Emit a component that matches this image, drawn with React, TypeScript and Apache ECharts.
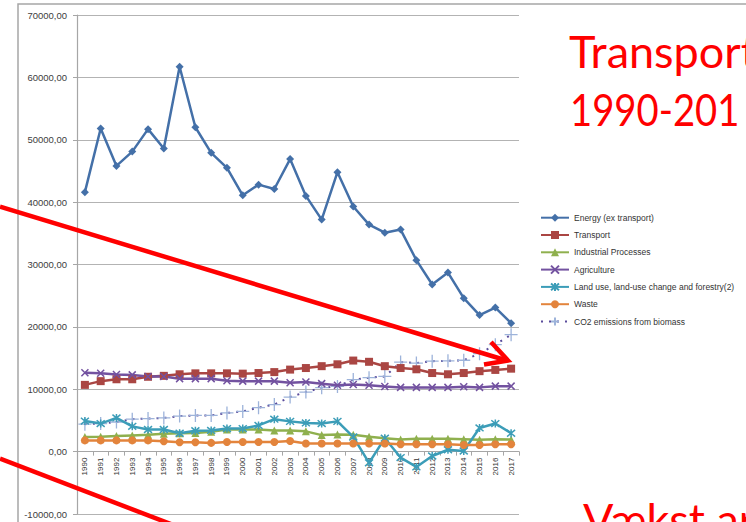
import React, { useEffect, useRef } from "react";
import * as echarts from "echarts";

const years = [
  "1990", "1991", "1992", "1993", "1994", "1995", "1996", "1997", "1998", "1999",
  "2000", "2001", "2002", "2003", "2004", "2005", "2006", "2007", "2008", "2009",
  "2010", "2011", "2012", "2013", "2014", "2015", "2016", "2017",
];

const energy = [
  41600, 51800, 45800, 48100, 51700, 48600, 61700, 52000, 47900, 45500,
  41100, 42800, 42100, 46900, 41000, 37200, 44800, 39300, 36400, 35100,
  35600, 30700, 26800, 28700, 24600, 21900, 23100, 20600,
];
const transport = [
  10700, 11300, 11600, 11600, 12000, 12150, 12400, 12550, 12550, 12550,
  12500, 12600, 12750, 13150, 13400, 13700, 14000, 14600, 14400, 13700,
  13400, 13200, 12600, 12400, 12600, 12900, 13100, 13300,
];
const industrial = [
  2350, 2400, 2500, 2600, 2700, 2850, 2950, 3000, 3200, 3550,
  3550, 3550, 3400, 3400, 3250, 2650, 2750, 2700, 2400, 2150,
  1950, 2050, 2050, 2050, 2000, 1900, 2000, 1950,
];
const agriculture = [
  12650, 12550, 12350, 12300, 12050, 12050, 11700, 11700, 11700, 11350,
  11300, 11300, 11300, 11050, 11150, 10900, 10650, 10750, 10650, 10430,
  10300, 10300, 10300, 10300, 10400, 10300, 10500, 10500,
];
const landUse = [
  4900, 4500, 5400, 4050, 3550, 3550, 2950, 3350, 3400, 3700,
  3700, 4200, 5200, 4850, 4600, 4500, 4850, 2350, -1800, 2150,
  -950, -2450, -700, 300, 100, 3800, 4500, 2950,
];
const waste = [
  1800, 1800, 1800, 1800, 1800, 1650, 1500, 1500, 1400, 1550,
  1550, 1550, 1550, 1700, 1300, 1300, 1300, 1300, 1300, 1300,
  1170, 1170, 1170, 1170, 1070, 1070, 1170, 1170,
];
const biomass = [
  4400, 4500, 4750, 5200, 5300, 5400, 5700, 5800, 5800, 6200,
  6450, 7050, 7550, 8750, 9550, 10250, 10450, 11550, 11850, 12050,
  14350, 14200, 14500, 14550, 14650, 15700, 17150, 18750,
];

const seriesNames = [
  "Energy (ex transport)",
  "Transport",
  "Industrial Processes",
  "Agriculture",
  "Land use, land-use change and forestry(2)",
  "Waste",
  "CO2 emissions from biomass",
];

const headline1 = "Transport";
const headline2 = "1990-201";
const headline3 = "Vækst ar";

const X_PATH = "path://M0,0L10,10M10,0L0,10";
const STAR_PATH = "path://M0,0L10,10M10,0L0,10M5,-1L5,11";
const PLUS_PATH = "path://M0,5L10,5M5,0L5,10";

export default function App() {
  const ref = useRef<HTMLDivElement>(null);

  useEffect(() => {
    if (!ref.current) return;
    const chart = echarts.init(ref.current, null, { renderer: "svg" });
    const font = "Liberation Sans";
    const lineSeries = (
      name: string,
      data: number[],
      color: string,
      symbol: string,
      symbolSize: number,
      extra: any = {}
    ) => ({
      name,
      type: "line",
      data,
      symbol,
      symbolSize,
      showSymbol: true,
      lineStyle: { color, width: 2.5 },
      itemStyle: { color },
      ...extra,
    });

    const gridTop = 15;
    const gridBottom = 8;
    const plotH = 522 - gridTop - gridBottom;
    const yMin = -10000;
    const yMax = 70000;
    const zeroOffset = -(plotH * (0 - yMin)) / (yMax - yMin);

    chart.setOption({
      animation: false,
      backgroundColor: "#ffffff",
      grid: {
        left: 77,
        right: 227,
        top: gridTop,
        bottom: gridBottom,
        containLabel: false,
        outerBoundsMode: "none",
      },
      legend: {
        orient: "vertical",
        left: 535,
        top: 207.7,
        itemWidth: 28,
        itemHeight: 10,
        itemGap: 7.3,
        textStyle: { fontFamily: font, fontSize: 8.5, color: "#333333", lineHeight: 10 },
        data: seriesNames,
      },
      xAxis: {
        type: "category",
        data: years,
        boundaryGap: true,
        position: "bottom",
        offset: zeroOffset,
        axisLine: { show: true, onZero: false, lineStyle: { color: "#A6A6A6", width: 1.2 } },
        axisTick: { show: true, length: 4, alignWithLabel: false, interval: 0, lineStyle: { color: "#A6A6A6" } },
        axisLabel: {
          rotate: 90,
          interval: 0,
          margin: 6,
          fontFamily: font,
          fontSize: 8,
          color: "#333333",
        },
        splitLine: { show: false },
      },
      yAxis: {
        type: "value",
        min: yMin,
        max: yMax,
        interval: 10000,
        axisLine: { show: true, lineStyle: { color: "#A6A6A6", width: 1.2 } },
        axisTick: { show: true, length: 4, lineStyle: { color: "#A6A6A6" } },
        axisLabel: {
          margin: 10,
          fontFamily: font,
          fontSize: 9.5,
          color: "#404040",
          formatter: (v: number) => v.toFixed(2).replace(".", ","),
        },
        splitLine: { show: true, lineStyle: { color: "#B3B3B3", width: 1 } },
      },
      series: [
        lineSeries(seriesNames[0], energy, "#4470A8", "diamond", 8),
        lineSeries(seriesNames[1], transport, "#AA4643", "rect", 8),
        lineSeries(seriesNames[2], industrial, "#8FB04E", "triangle", 8),
        lineSeries(seriesNames[3], agriculture, "#7352A0", X_PATH, 7, {
          itemStyle: { color: "#7352A0", borderColor: "#7352A0", borderWidth: 1.5 },
        }),
        lineSeries(seriesNames[4], landUse, "#3C9DB8", STAR_PATH, 8, {
          itemStyle: { color: "#3C9DB8", borderColor: "#3C9DB8", borderWidth: 1.5 },
        }),
        lineSeries(seriesNames[5], waste, "#E3843C", "circle", 8),
        {
          name: seriesNames[6],
          type: "line",
          data: biomass,
          symbol: PLUS_PATH,
          symbolSize: 13,
          lineStyle: { color: "#5A4C9C", width: 2, type: [2, 6] },
          itemStyle: { color: "#9DB3DA", borderColor: "#9DB3DA", borderWidth: 1.3 },
          z: 1,
        },
      ],
      graphic: [
        {
          type: "rect",
          z: -10,
          silent: true,
          shape: { x: 18, y: 4, width: 760, height: 560 },
          style: { fill: "none", stroke: "#A6A6A6", lineWidth: 1.5 },
        },
        {
          type: "text",
          z: 100,
          x: 569,
          y: 51,
          style: {
            text: headline1,
            fill: "#FF0000",
            font: "45px Lato",
            verticalAlign: "middle",
            align: "left",
          },
        },
        {
          type: "text",
          z: 100,
          x: 570,
          y: 108.5,
          scaleX: 0.85,
          style: {
            text: headline2,
            fill: "#FF0000",
            font: "45px Lato",
            verticalAlign: "middle",
            align: "left",
          },
        },
        {
          type: "text",
          z: 100,
          x: 583,
          y: 519,
          style: {
            text: headline3,
            fill: "#FF0000",
            font: "45px Lato",
            verticalAlign: "middle",
            align: "left",
          },
        },
        {
          type: "line",
          z: 100,
          shape: { x1: 0, y1: 206.7, x2: 505, y2: 360 },
          style: { stroke: "#FF0000", lineWidth: 4.5 },
        },
        {
          type: "polyline",
          z: 100,
          shape: { points: [[491, 342], [508, 360.5], [484, 364.5]] },
          style: { stroke: "#FF0000", lineWidth: 4.5, fill: "none", lineJoin: "miter" },
        },
        {
          type: "line",
          z: 100,
          shape: { x1: 0, y1: 458.7, x2: 172, y2: 524.5 },
          style: { stroke: "#FF0000", lineWidth: 4.5 },
        },
      ],
    });
    return () => chart.dispose();
  }, []);

  return (
    <div
      ref={ref}
      style={{ position: "absolute", left: 0, top: 0, width: 746, height: 522 }}
    />
  );
}
